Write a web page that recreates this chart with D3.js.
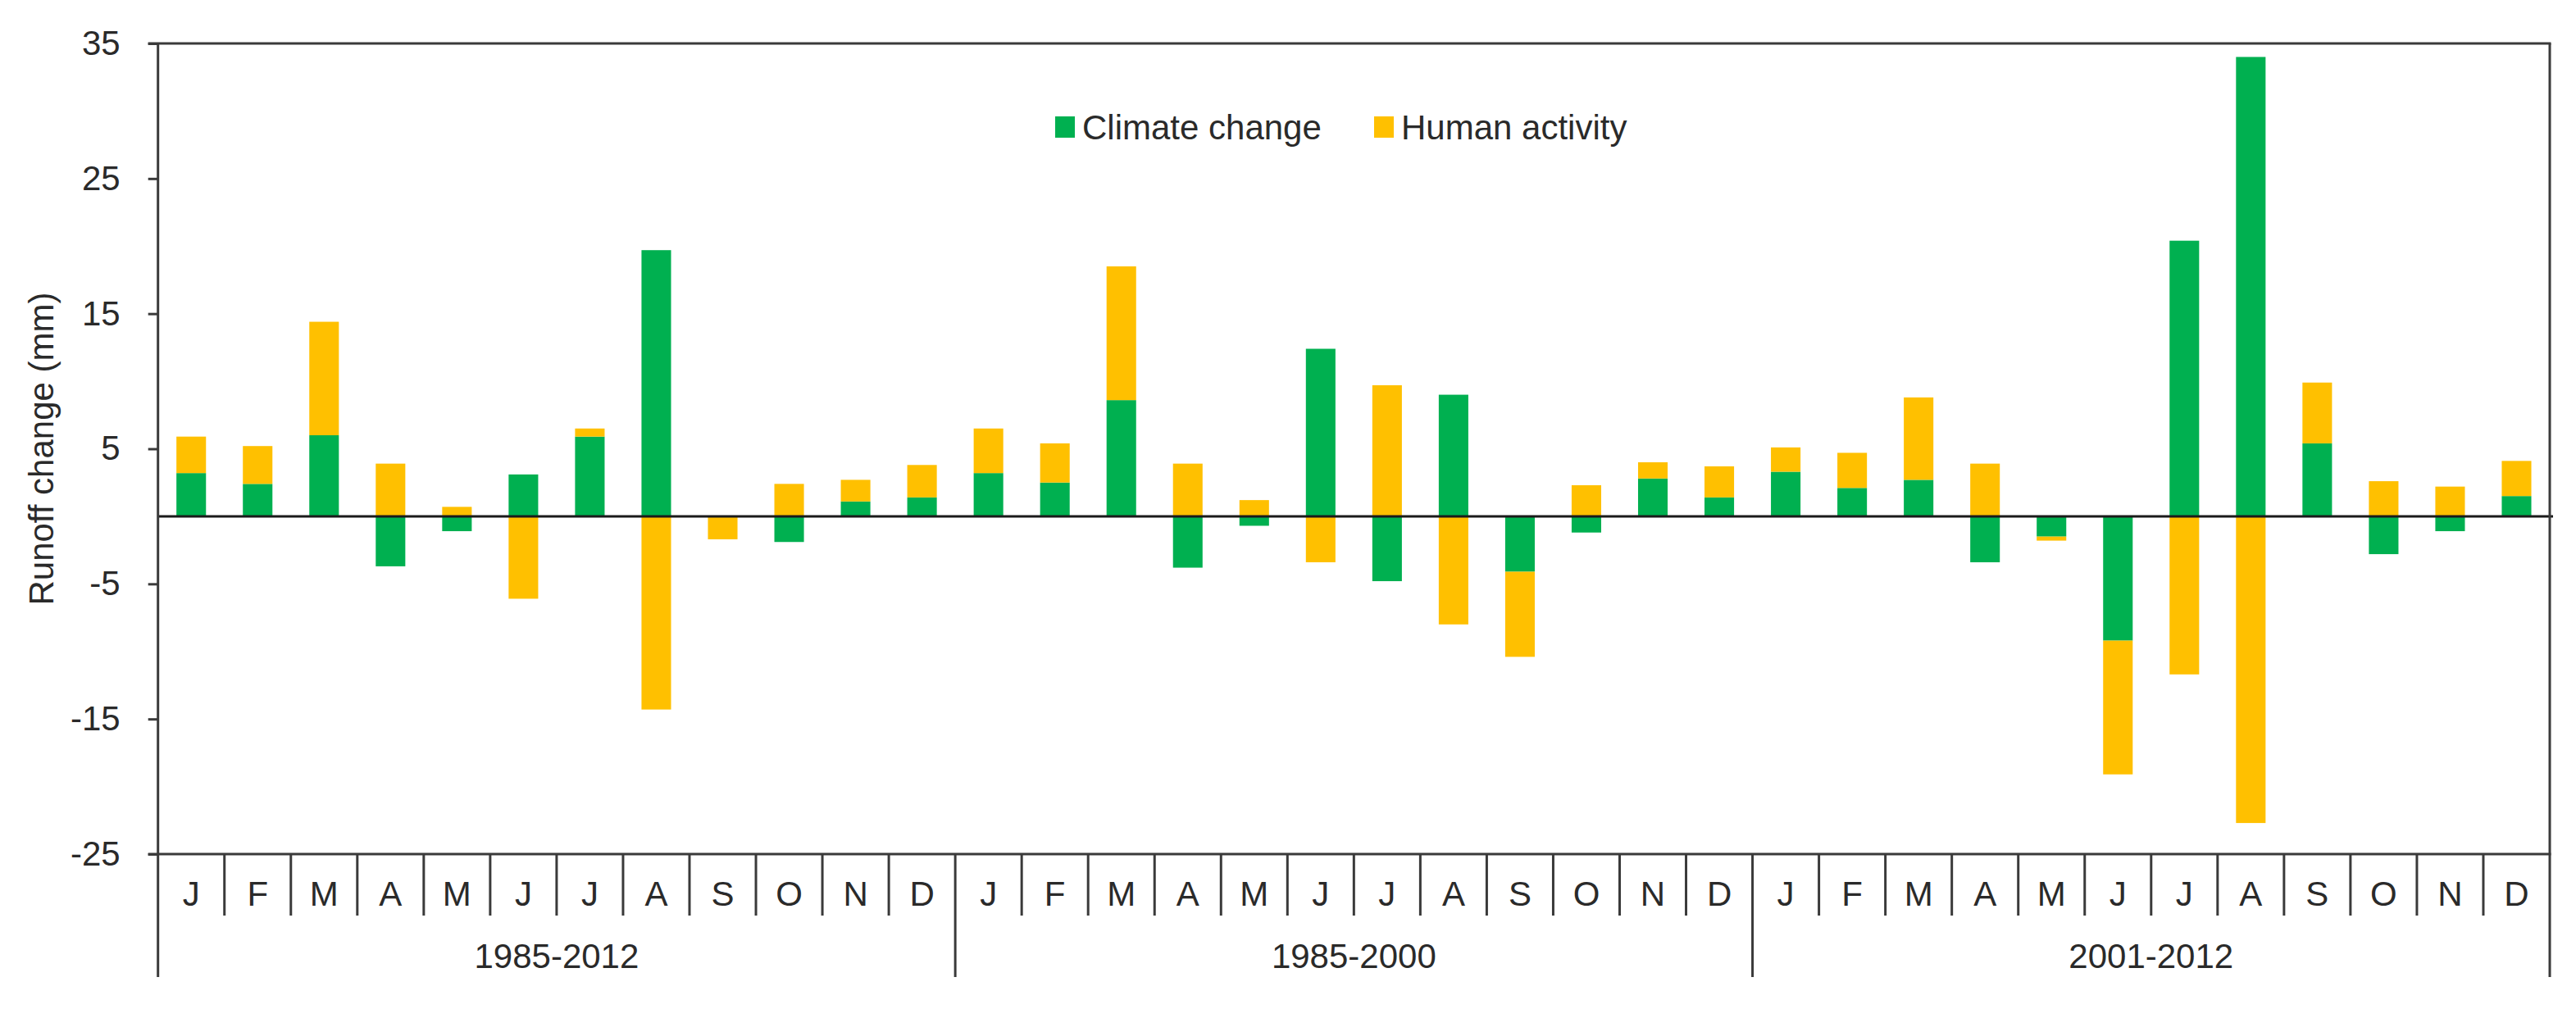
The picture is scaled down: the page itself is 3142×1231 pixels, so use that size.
<!DOCTYPE html>
<html>
<head>
<meta charset="utf-8">
<script src="https://cdn.jsdelivr.net/npm/d3@7"></script>
<style>
  body { margin: 0; background: #fff; }
  svg { display: block; font-family: "Liberation Sans", Arial, sans-serif; }
</style>
</head>
<body>
<svg id="chart" width="3142" height="1231"></svg>
<script>
// month letters and the three periods they belong to
var months = ["J","F","M","A","M","J","J","A","S","O","N","D"];
var periods = ["1985-2012", "1985-2000", "2001-2012"];

// runoff change (mm), 12 months per period
var climate = [
  3.2, 2.4, 6.0, -3.7, -1.1, 3.1, 5.9, 19.7, 0.0, -1.9, 1.1, 1.4,
  3.2, 2.5, 8.6, -3.8, -0.7, 12.4, -4.8, 9.0, -4.1, -1.2, 2.8, 1.4,
  3.3, 2.1, 2.7, -3.4, -1.5, -9.2, 20.4, 34.0, 5.4, -2.8, -1.1, 1.5
];
var human = [
  2.7, 2.8, 8.4, 3.9, 0.7, -6.1, 0.6, -14.3, -1.7, 2.4, 1.6, 2.4,
  3.3, 2.9, 9.9, 3.9, 1.2, -3.4, 9.7, -8.0, -6.3, 2.3, 1.2, 2.3,
  1.8, 2.6, 6.1, 3.9, -0.3, -9.9, -11.7, -22.7, 4.5, 2.6, 2.2, 2.6
];
var yTicks = [-25, -15, -5, 5, 15, 25, 35];

var seriesNames = ["Climate change", "Human activity"];
var colors = {"climate": "#00b050", "human": "#ffc000"};
var lineColor = "#3a3a3a";
var textColor = "#2a2a2a";

var svg = d3.select("#chart");
// note: "top" is taken by window.top, so plot edges get their own names
var plotL = 192.7, plotR = 3110, plotT = 53, plotB = 1042;
var monthSep = 1117, groupSep = 1192;

// one row per bar
var rows = [];
for (var i = 0; i < climate.length; i++) {
  rows.push({idx: i, month: months[i % 12], climate: climate[i], human: human[i]});
}

var x = d3.scaleBand()
  .domain(rows.map(function(d) { return d.idx; }))
  .range([plotL, plotR])
  .paddingInner(0.555)
  .paddingOuter(0.2775); // keeps step = width / 36
var step = x.step();

var y = d3.scaleLinear().domain([-25, 35]).range([plotB, plotT]);

var stacked = d3.stack()
  .keys(["climate", "human"])
  .offset(d3.stackOffsetDiverging)(rows);

// bars
svg.append("g").selectAll("g")
  .data(stacked).enter()
  .append("g")
  .attr("fill", function(s) { return colors[s.key]; })
  .selectAll("rect")
  .data(function(s) { return s; }).enter()
  .append("rect")
  .attr("x", function(d) { return x(d.data.idx); })
  .attr("width", x.bandwidth())
  .attr("y", function(d) { return y(Math.max(d[0], d[1])); })
  .attr("height", function(d) { return Math.abs(y(d[0]) - y(d[1])); });

// zero line
svg.append("line")
  .attr("x1", plotL).attr("x2", plotR + 4)
  .attr("y1", y(0)).attr("y2", y(0))
  .attr("stroke", "#1a1a1a").attr("stroke-width", 3);

// y axis
var yAxis = svg.append("g")
  .attr("transform", "translate(" + plotL + ",0)")
  .call(d3.axisLeft(y).tickValues(yTicks).tickSize(12).tickPadding(34)
    .tickFormat(function(d) { return String(d); }));
yAxis.select(".domain").remove();
yAxis.selectAll(".tick line").attr("stroke", lineColor).attr("stroke-width", 3);
yAxis.selectAll(".tick text")
  .attr("fill", textColor)
  .style("font-size", "42px")
  .style("font-family", "'Liberation Sans', Arial, sans-serif");

// frame: top, right, left and category floor
var frame = svg.append("g").attr("stroke", lineColor).attr("stroke-width", 3).attr("fill", "none");
frame.append("line").attr("x1", plotL - 12).attr("x2", plotR + 1.5).attr("y1", plotT).attr("y2", plotT);
frame.append("line").attr("x1", plotL).attr("x2", plotL).attr("y1", plotT).attr("y2", groupSep);
frame.append("line").attr("x1", plotR).attr("x2", plotR).attr("y1", plotT).attr("y2", groupSep);
frame.append("line").attr("x1", plotL - 12).attr("x2", plotR + 1.5).attr("y1", plotB).attr("y2", plotB);

// separators below the plot: short between months, long between periods
var seps = d3.range(1, rows.length);
frame.selectAll(".sep")
  .data(seps).enter()
  .append("line")
  .attr("x1", function(i) { return plotL + i * step; })
  .attr("x2", function(i) { return plotL + i * step; })
  .attr("y1", plotB)
  .attr("y2", function(i) { return i % 12 === 0 ? groupSep : monthSep; });

// month labels
var xAxis = svg.append("g")
  .attr("transform", "translate(0," + plotB + ")")
  .call(d3.axisBottom(x).tickSize(0).tickPadding(33)
    .tickFormat(function(i) { return months[i % 12]; }));
xAxis.select(".domain").remove();
xAxis.selectAll(".tick text")
  .attr("fill", textColor)
  .style("font-size", "42px")
  .style("font-family", "'Liberation Sans', Arial, sans-serif");

// period labels
svg.append("g").selectAll("text")
  .data(periods).enter()
  .append("text")
  .attr("x", function(p, k) { return plotL + (k * 12 + 6) * step; })
  .attr("y", 1181)
  .attr("text-anchor", "middle")
  .attr("fill", textColor)
  .style("font-size", "42px")
  .text(function(p) { return p; });

// y label
svg.append("text")
  .attr("transform", "translate(65," + ((plotT + plotB) / 2) + ") rotate(-90)")
  .attr("text-anchor", "middle")
  .attr("fill", textColor)
  .style("font-size", "42px")
  .text("Runoff change (mm)");

// legend
var legend = svg.append("g");
var legendItems = [
  {name: seriesNames[0], key: "climate", x: 1287},
  {name: seriesNames[1], key: "human", x: 1676}
];
var li = legend.selectAll("g").data(legendItems).enter()
  .append("g")
  .attr("transform", function(d) { return "translate(" + d.x + ",142)"; });
li.append("rect")
  .attr("width", 24).attr("height", 26)
  .attr("fill", function(d) { return colors[d.key]; });
li.append("text")
  .attr("x", 33).attr("y", 28)
  .attr("fill", textColor)
  .style("font-size", "42px")
  .text(function(d) { return d.name; });
</script>
</body>
</html>
